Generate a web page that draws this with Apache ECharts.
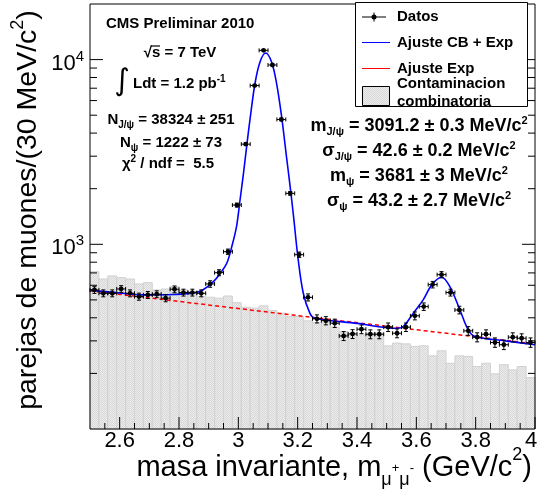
<!DOCTYPE html>
<html><head><meta charset="utf-8">
<script src="https://cdn.jsdelivr.net/npm/echarts@6/dist/echarts.min.js"></script>
<style>html,body{margin:0;padding:0;background:#fff}#c{width:542px;height:500px}</style>
</head><body><div id="c"></div>
<script>
// ---------------- data ----------------
const masses = [2.515,2.545,2.575,2.605,2.635,2.665,2.695,2.725,2.755,2.785,
  2.815,2.845,2.875,2.905,2.935,2.965,2.995,3.025,3.055,3.085,
  3.115,3.145,3.175,3.205,3.235,3.265,3.295,3.325,3.355,3.385,
  3.415,3.445,3.475,3.505,3.535,3.565,3.595,3.625,3.655,3.685,
  3.715,3.745,3.775,3.805,3.835,3.865,3.895,3.925,3.955,3.985];
const datos = [566,543,543,573,543,521,532,537,511,571,
  548,548,543,610,702,912,1631,3486,7236,11220,
  9350,4740,1887,879,516,395,386,374,319,327,
  347,326,326,356,330,356,410,460,605,685,
  548,441,340,314,326,294,286,314,310,294];
const contaminacion = [711,649,674,660,649,610,620,566,573,590,
  566,554,521,517,511,525,483,456,451,464,
  438,424,406,406,385,377,377,356,337,330,
  324,330,330,282,292,289,280,282,249,265,
  227,249,247,218,227,199,223,209,218,190];
const ajusteCBExpX = [2.50,2.60,2.69,2.78,2.85,2.88,2.916,2.94,2.961,2.98,2.994,3.005,3.017,3.030,3.039,3.056,3.073,3.092,3.112,3.129,3.146,3.163,3.172,3.185,3.202,3.219,3.241,3.258,3.40,3.534,3.556,3.59,3.623,3.652,3.685,3.713,3.747,3.775,3.798,3.90,4.0];
const ajusteCBExpY = [565,545,532,535,545,566,628,700,789,1000,1250,1700,2400,3600,4700,7400,9700,10855,9700,7420,4898,2917,2227,1471,820,543,424,398,373,351,359,424,500,603,663,590,441,344,317,300,286];
const ajusteExpX = [2.5,3.0,3.5,4.0];
const ajusteExpY = [560,449,360,289];
const xTicksMajor = [2.6,2.8,3.0,3.2,3.4,3.6,3.8,4.0];
const xTickLabels = ['2.6','2.8','3','3.2','3.4','3.6','3.8','4'];
const xTicksMinor = [2.55,2.65,2.7,2.75,2.85,2.9,2.95,3.05,3.1,3.15,3.25,3.3,3.35,3.45,3.5,3.55,3.65,3.7,3.75,3.85,3.9,3.95];
const yTicksMajor = [1000,10000];
const yTickExp = ['3','4'];
const yTicksMinor = [200,300,400,500,600,700,800,900,2000,3000,4000,5000,6000,7000,8000,9000];

// ---------------- setup ----------------
const X_MIN = 2.5, X_MAX = 4.0, Y_MIN = 100, Y_MAX = 20000, BIN_HALF = 0.015;
const FONT = '"Liberation Sans", Arial, Helvetica, sans-serif';
const chart = echarts.init(document.getElementById('c'), null, {renderer:'canvas'});

// hatch pattern
const pc = document.createElement('canvas'); pc.width = 2; pc.height = 2;
const pctx = pc.getContext('2d');
pctx.fillStyle = '#ececec'; pctx.fillRect(0,0,2,2);
pctx.fillStyle = '#d8d8d8'; pctx.fillRect(0,0,1,1); pctx.fillRect(1,1,1,1);
const hatch = {image: pc, repeat: 'repeat'};

// rich text: main tokens centred, sub at bottom, sup at top of a line of height L
function rt(parts, size, weight, d, smallSize) {
  const small = smallSize || Math.round(size * 0.65);
  const L = 2 * d + small;
  const mk = (fs, va) => ({fontSize: fs, fontFamily: FONT, fontWeight: weight, lineHeight: L, verticalAlign: va, fill: '#000'});
  const rich = {
    m: mk(size, 'middle'),
    sub: mk(small, 'bottom'),
    sup: mk(small, 'top'),
    ss: mk(Math.round(size * 0.45), 'middle')
  };
  return {text: parts.map(p => '{' + p[0] + '|' + p[1] + '}').join(''), rich: rich, top: L / 2};
}
function label(x, yc, parts, size, align, weight, d, small) {
  const r = rt(parts, size, weight || 'bold', d || 5, small);
  return {type: 'text', x: x, y: yc - r.top, z: 60,
    style: {text: r.text, rich: r.rich, align: align, textAlign: align, verticalAlign: 'top', textVerticalAlign: 'top',
      font: (weight || 'bold') + ' ' + size + 'px ' + FONT, fill: '#000'}};
}

const G = {left: 90, top: 4, width: 445, height: 425};

const graphics = [
  // frame
  {type: 'rect', z: 55, shape: {x: G.left, y: G.top, width: G.width, height: G.height}, style: {fill: null, stroke: '#000', lineWidth: 1}},
  // annotations left
  label(106, 24, [['m', 'CMS Preliminar 2010']], 15, 'left'),
  label(180, 53, [['m', '√s = 7 TeV']], 15, 'center'),
  {type: 'line', z: 60, shape: {x1: 151, y1: 46, x2: 160, y2: 46}, style: {stroke: '#000', lineWidth: 1.2}},
  {type: 'text', x: 122, y: 82, z: 60, style: {text: '∫', font: '30px "DejaVu Sans"', align: 'center', textAlign: 'center', verticalAlign: 'middle', textVerticalAlign: 'middle', fill: '#000'}},
  label(133, 84, [['m', 'Ldt = 1.2 pb'], ['sup', '-1']], 15, 'left'),
  label(171, 120, [['m', 'N'], ['sub', 'J/ψ'], ['m', ' = 38324 ± 251']], 15, 'center'),
  label(171, 143, [['m', 'N'], ['sub', 'ψ'], ['m', ' = 1222 ± 73']], 15, 'center'),
  label(168, 164, [['m', 'χ'], ['sup', '2'], ['m', ' / ndf =  5.5']], 15, 'center'),
  // annotations right
  label(419, 126, [['m', 'm'], ['sub', 'J/ψ'], ['m', ' = 3091.2 ± 0.3 MeV/c'], ['sup', '2']], 18, 'center', 'bold', 5.5, 11),
  label(419, 151, [['m', 'σ'], ['sub', 'J/ψ'], ['m', ' = 42.6 ± 0.2 MeV/c'], ['sup', '2']], 18, 'center', 'bold', 5.5, 11),
  label(419, 176, [['m', 'm'], ['sub', 'ψ'], ['m', ' = 3681 ± 3 MeV/c'], ['sup', '2']], 18, 'center', 'bold', 5.5, 11),
  label(419, 201, [['m', 'σ'], ['sub', 'ψ'], ['m', ' = 43.2 ± 2.7 MeV/c'], ['sup', '2']], 18, 'center', 'bold', 5.5, 11),
  // legend
  {type: 'rect', z: 70, shape: {x: 355.5, y: 2.5, width: 172, height: 104}, style: {fill: '#fff', stroke: '#000', lineWidth: 1}},
  {type: 'line', z: 71, shape: {x1: 362, y1: 17, x2: 386, y2: 17}, style: {stroke: '#000', lineWidth: 1}},
  {type: 'line', z: 71, shape: {x1: 374, y1: 12.5, x2: 374, y2: 21.5}, style: {stroke: '#000', lineWidth: 1}},
  {type: 'circle', z: 72, shape: {cx: 374, cy: 17, r: 2.5}, style: {fill: '#000'}},
  {type: 'line', z: 71, shape: {x1: 362, y1: 42.5, x2: 390, y2: 42.5}, style: {stroke: '#0000ff', lineWidth: 1}},
  {type: 'line', z: 71, shape: {x1: 362, y1: 68.5, x2: 390, y2: 68.5}, style: {stroke: '#ff0000', lineWidth: 1}},
  {type: 'rect', z: 71, shape: {x: 362.5, y: 86.5, width: 27, height: 19}, style: {fill: hatch, stroke: '#000', lineWidth: 1}},
  Object.assign(label(397, 17, [['m', 'Datos']], 15, 'left'), {z: 75}),
  Object.assign(label(397, 42.5, [['m', 'Ajuste CB + Exp']], 15, 'left'), {z: 75}),
  Object.assign(label(397, 68.5, [['m', 'Ajuste Exp']], 15, 'left'), {z: 75}),
  Object.assign(label(397, 83.5, [['m', 'Contaminacion']], 15, 'left'), {z: 75}),
  Object.assign(label(397, 101.5, [['m', 'combinatoria']], 15, 'left'), {z: 75}),
  // x axis title
  label(532, 468, [['m', 'masa invariante, m'], ['sub', 'μ'], ['ss', '+'], ['sub', 'μ'], ['ss', '-'], ['m', ' (GeV/c'], ['sup', '2'], ['m', ')']], 29, 'right', 'normal', 12.5, 18),
];
const yt = rt([['m', 'parejas de muones/(30 MeV/c'], ['sup', '2'], ['m', ')']], 28.5, 'normal', 10, 18);
graphics.push({type: 'text', x: 28, y: 210, rotation: Math.PI / 2, z: 60,
  style: {text: yt.text, rich: yt.rich, align: 'center', textAlign: 'center', verticalAlign: 'middle', textVerticalAlign: 'middle', font: '28.5px ' + FONT, fill: '#000'}});

function tickSeries(data, kind, len) {
  return {type: 'custom', z: 5, silent: true, clip: false, data: data,
    renderItem: function (params, api) {
      const v = api.value(kind === 'x' ? 0 : 1);
      if (kind === 'x') {
        const p = api.coord([v, Y_MIN]);
        return {type: 'line', shape: {x1: p[0], y1: p[1], x2: p[0], y2: p[1] - len}, style: {stroke: '#000', lineWidth: 1}};
      }
      const l = api.coord([X_MIN, v]), r = api.coord([X_MAX, v]);
      return {type: 'group', children: [
        {type: 'line', shape: {x1: l[0], y1: l[1], x2: l[0] + len, y2: l[1]}, style: {stroke: '#000', lineWidth: 1}},
        {type: 'line', shape: {x1: r[0], y1: r[1], x2: r[0] - len, y2: r[1]}, style: {stroke: '#000', lineWidth: 1}}
      ]};
    }};
}

const option = {
  animation: false,
  grid: {left: G.left, top: G.top, width: G.width, height: G.height, show: false},
  xAxis: {type: 'value', min: X_MIN, max: X_MAX, axisLine: {show: false}, axisTick: {show: false}, axisLabel: {show: false}, splitLine: {show: false}},
  yAxis: {type: 'log', logBase: 10, min: Y_MIN, max: Y_MAX, axisLine: {show: false}, axisTick: {show: false}, axisLabel: {show: false}, splitLine: {show: false}},
  graphic: graphics,
  series: [
    {type: 'custom', name: 'Contaminacion combinatoria', z: 1, silent: true,
      data: masses.map((m, i) => [m, contaminacion[i]]),
      renderItem: function (params, api) {
        const x = api.value(0), v = api.value(1);
        const a = api.coord([x - BIN_HALF, v]), b = api.coord([x + BIN_HALF, Y_MIN]);
        return {type: 'rect', shape: {x: a[0], y: a[1], width: b[0] - a[0], height: b[1] - a[1]},
          style: {fill: hatch, stroke: '#d2d2d2', lineWidth: 1}};
      }},
    {type: 'line', name: 'Ajuste Exp', z: 2, silent: true, showSymbol: false,
      data: ajusteExpX.map((x, i) => [x, ajusteExpY[i]]),
      lineStyle: {color: '#ff0000', width: 1.5, type: [4, 3]}},
    {type: 'line', name: 'Ajuste CB + Exp', z: 3, silent: true, showSymbol: false, smooth: 0.35,
      data: ajusteCBExpX.map((x, i) => [x, ajusteCBExpY[i]]),
      lineStyle: {color: '#0000ff', width: 1.6}},
    {type: 'custom', name: 'Datos', z: 4, silent: true,
      data: masses.map((m, i) => [m, datos[i]]),
      renderItem: function (params, api) {
        const x = api.value(0), v = api.value(1), e = Math.sqrt(v);
        const c = api.coord([x, v]);
        const l = api.coord([x - BIN_HALF, v]), r = api.coord([x + BIN_HALF, v]);
        const t = api.coord([x, v + e]), b = api.coord([x, v - e]);
        const st = {stroke: '#000', lineWidth: 1};
        return {type: 'group', children: [
          {type: 'line', shape: {x1: l[0], y1: c[1], x2: r[0], y2: c[1]}, style: st},
          {type: 'line', shape: {x1: l[0], y1: c[1] - 2, x2: l[0], y2: c[1] + 2}, style: st},
          {type: 'line', shape: {x1: r[0], y1: c[1] - 2, x2: r[0], y2: c[1] + 2}, style: st},
          {type: 'line', shape: {x1: c[0], y1: t[1], x2: c[0], y2: b[1]}, style: st},
          {type: 'line', shape: {x1: c[0] - 2, y1: t[1], x2: c[0] + 2, y2: t[1]}, style: st},
          {type: 'line', shape: {x1: c[0] - 2, y1: b[1], x2: c[0] + 2, y2: b[1]}, style: st},
          {type: 'circle', shape: {cx: c[0], cy: c[1], r: 2.4}, style: {fill: '#000'}}
        ]};
      }},
    tickSeries(xTicksMajor.map(v => [v, Y_MIN]), 'x', 12),
    tickSeries(xTicksMinor.map(v => [v, Y_MIN]), 'x', 6),
    tickSeries(yTicksMajor.map(v => [X_MIN, v]), 'y', 13),
    tickSeries(yTicksMinor.map(v => [X_MIN, v]), 'y', 7),
    {type: 'custom', z: 6, silent: true, clip: false,
      data: xTicksMajor.map((v, i) => [v, Y_MIN, i]),
      renderItem: function (params, api) {
        const p = api.coord([api.value(0), Y_MIN]);
        const last = api.value(2) === xTicksMajor.length - 1;
        return {type: 'text', x: p[0] - (last ? 4 : 0), y: p[1] + 12, style: {text: xTickLabels[api.value(2)], font: '22px ' + FONT, fill: '#000',
          align: 'center', textAlign: 'center', verticalAlign: 'middle', textVerticalAlign: 'middle'}};
      }},
    {type: 'custom', z: 6, silent: true, clip: false,
      data: yTicksMajor.map((v, i) => [X_MIN, v, i]),
      renderItem: function (params, api) {
        const p = api.coord([X_MIN, api.value(1)]);
        const r = rt([['m', '10'], ['sup', yTickExp[api.value(2)]]], 22, 'normal', 7, 15);
        return {type: 'text', x: p[0] - 6, y: p[1] + 4 - r.top, style: {text: r.text, rich: r.rich, font: '22px ' + FONT, fill: '#000',
          align: 'right', textAlign: 'right', verticalAlign: 'top', textVerticalAlign: 'top'}};
      }}
  ]
};
chart.setOption(option);
</script></body></html>
